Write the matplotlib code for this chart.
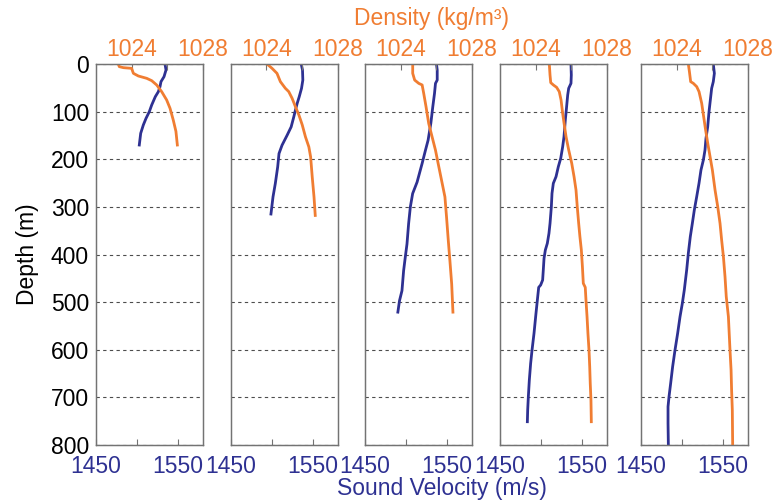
import numpy as np
import matplotlib
matplotlib.use("Agg")
from matplotlib import pyplot as plt

plt.rcParams['font.family'] = ['Liberation Sans Narrow', 'Liberation Sans', 'DejaVu Sans']

blue = '#2E3192'
orange = '#F07D32'

# profile 1
depth_v1 = [0, 12.6, 26.6, 37.1, 47.6, 58.1, 68.6, 86.1, 100.1, 114.1, 128.1, 145.6, 170.1]
vel_1 = [1534, 1535.2, 1532.8, 1529.1, 1527.9, 1525.9, 1522.2, 1517.8, 1514.9, 1510.9, 1507.6, 1504.4, 1502.7]
depth_d1 = [0, 5.6, 7.7, 9.1, 19.6, 25.2, 30.1, 35, 44.1, 58.1, 75.6, 93.1, 117.6, 141.4, 170.1]
dens_1 = [1023.25, 1023.31, 1023.54, 1024.0, 1024.1, 1024.38, 1024.85, 1025.13, 1025.41, 1025.69,
          1025.97, 1026.16, 1026.34, 1026.49, 1026.57]

# profile 2
depth_v2 = [0, 12.6, 33.7, 51.2, 68.8, 82.8, 96.8, 110.9, 132, 149.5, 170.5, 188, 216, 251, 279, 315]
vel_2 = [1535.8, 1537.4, 1537.8, 1536.2, 1533.4, 1530.9, 1528.8, 1526.8, 1523.6, 1518.7, 1512.5,
         1508.8, 1507.2, 1504.3, 1501.5, 1499]
depth_d2 = [0, 9, 19.6, 37, 51, 58, 72, 90, 107, 128, 153, 174, 195, 237, 279, 318]
dens_2 = [1024.04, 1024.32, 1024.6, 1024.79, 1025.07, 1025.26, 1025.45, 1025.64, 1025.83, 1026.02,
          1026.2, 1026.39, 1026.49, 1026.58, 1026.68, 1026.75]

# profile 3
depth_v3 = [0, 12.6, 33.7, 40.7, 61.8, 90, 125, 160, 181, 209, 248, 272, 300, 335, 378, 406, 434,
            476, 497, 521]
vel_3 = [1537, 1537.9, 1537.9, 1535.8, 1534.6, 1532.5, 1530.1, 1526.8, 1523.6, 1519.5, 1513.4, 1508,
         1505.2, 1503.1, 1501.1, 1499, 1497, 1495, 1492, 1490]
depth_d3 = [0, 19.6, 33.7, 40.7, 44, 62, 90, 125, 153, 181, 209, 244, 279, 321, 371, 413, 462, 521]
dens_3 = [1024.68, 1024.68, 1024.79, 1025.02, 1025.21, 1025.3, 1025.43, 1025.58, 1025.77, 1025.96,
          1026.11, 1026.3, 1026.49, 1026.58, 1026.68, 1026.77, 1026.87, 1026.94]

# profile 4
depth_v4 = [0, 23.1, 40.6, 51.1, 65.1, 96.6, 117.6, 152.6, 173.6, 198.1, 215.6, 236.6, 250.6, 271.6,
            299.6, 334.6, 355.6, 376.6, 390.6, 408.1, 432.6, 453.6, 464.1, 469, 488.6, 523.6, 565.6,
            600.6, 628.6, 663.6, 698.6, 726.6, 751.1]
vel_4 = [1536.4, 1536.8, 1536.4, 1533.6, 1532.4, 1530.7, 1529.5, 1527.9, 1526.3, 1523.9, 1521, 1518.2,
         1514.9, 1513.3, 1512.5, 1510.9, 1509.6, 1507.6, 1505.2, 1503.6, 1502.7, 1501.9, 1499.5, 1497.1,
         1495.9, 1493.8, 1491.4, 1489, 1487.3, 1485.7, 1484.5, 1483.7, 1483.3]
depth_d4 = [0, 23.1, 39.2, 44.1, 49, 58.1, 75.6, 103.6, 124.6, 152.6, 180.6, 208.6, 236.6, 264.6,
            299.6, 334.6, 362.6, 390.6, 425.6, 460.6, 469, 495.6, 530.6, 565.6, 600.6, 635.6, 670.6,
            705.6, 751.1]
dens_4 = [1024.77, 1024.81, 1024.85, 1025.0, 1025.18, 1025.33, 1025.43, 1025.52, 1025.6, 1025.71,
          1025.86, 1026.03, 1026.16, 1026.27, 1026.34, 1026.42, 1026.49, 1026.57, 1026.63, 1026.68,
          1026.79, 1026.83, 1026.89, 1026.94, 1027.0, 1027.04, 1027.07, 1027.11, 1027.13]

# profile 5
depth_v5 = [0, 19.6, 37.1, 51.1, 75.6, 100.1, 131.6, 156.1, 180.6, 201.6, 222.6, 250.6, 278.6, 306.6,
            334.6, 362.6, 397.6, 432.6, 474.6, 502.6, 530.6, 565.6, 600.6, 635.6, 670.6, 698.6, 719.6,
            754.6, 800]
vel_5 = [1538, 1539.3, 1538, 1536, 1534.4, 1532.8, 1531.2, 1529.1, 1527.9, 1525.9, 1523, 1520.6,
         1517.8, 1514.9, 1512.5, 1510, 1507.6, 1505.6, 1502.7, 1500.3, 1497.5, 1494.6, 1491.4, 1488.5,
         1486.1, 1484.1, 1482.9, 1482.9, 1483.3]
depth_d5 = [0, 16.1, 37.1, 40.6, 47.6, 58.1, 82.6, 110.6, 138.6, 166.6, 194.6, 222.6, 264.6, 299.6,
            334.6, 369.6, 404.6, 446.6, 488.6, 530.6, 600.6, 642.6, 684.6, 726.6, 800]
dens_5 = [1024.66, 1024.72, 1024.79, 1024.94, 1025.13, 1025.26, 1025.41, 1025.52, 1025.63, 1025.75,
          1025.88, 1026.01, 1026.16, 1026.31, 1026.44, 1026.53, 1026.63, 1026.72, 1026.79, 1026.91,
          1027.0, 1027.06, 1027.09, 1027.13, 1027.15]

profiles = [
    (depth_v1, vel_1, depth_d1, dens_1),
    (depth_v2, vel_2, depth_d2, dens_2),
    (depth_v3, vel_3, depth_d3, dens_3),
    (depth_v4, vel_4, depth_d4, dens_4),
    (depth_v5, vel_5, depth_d5, dens_5),
]

depth_ticks = list(range(0, 900, 100))
vel_ticks = [1450, 1500, 1550]
vel_labels = ['1450', '', '1550']
dens_ticks = [1024, 1026, 1028]
dens_labels = ['1024', '', '1028']

fig = plt.figure(figsize=(7.73, 5.03), dpi=100)

W, H = 773.0, 503.0
lefts = [96, 230.7, 365, 500, 641]
pw = 106.8
top, bot = 64, 445
fs = 16.5

for i, (dv, v, dd, d) in enumerate(profiles):
    ax = fig.add_axes([lefts[i] / W, 1 - bot / H, pw / W, (bot - top) / H])
    ax.plot(v, dv, color=blue, lw=2)
    ax.set_xlim(1450, 1580)
    ax.set_ylim(800, 0)
    ax.set_xticks(vel_ticks)
    ax.set_xticklabels(vel_labels)
    ax.set_yticks(depth_ticks)
    ax.yaxis.grid(True, ls=(0, (3, 3)), color='0.3', lw=0.8)
    ax.tick_params(axis='x', direction='in', length=4, color='0.45', labelcolor=blue,
                   labelsize=fs, pad=7)
    ax.tick_params(axis='y', length=0, labelsize=fs, pad=5)
    if i > 0:
        ax.set_yticklabels([])

    ax2 = ax.twiny()
    ax2.plot(d, dd, color=orange, lw=2)
    ax2.set_xlim(1022, 1028)
    ax2.set_xticks(dens_ticks)
    ax2.set_xticklabels(dens_labels)
    ax2.tick_params(axis='x', direction='in', length=4, color='0.45', labelcolor=orange,
                    labelsize=fs, pad=2)
    for a in (ax, ax2):
        for s in a.spines.values():
            s.set_color('0.45')
            s.set_linewidth(0.9)

fig.text(28 / W, 0.494, 'Depth (m)', rotation=90, ha='center', va='center', fontsize=fs)
fig.text(431 / W, 1 - 18 / H, 'Density (kg/m³)', ha='center', va='center', fontsize=fs,
         color=orange)
fig.text(442 / W, 1 - 488 / H, 'Sound Velocity (m/s)', ha='center', va='center', fontsize=fs,
         color=blue)

fig.savefig('out.png', dpi=100)
